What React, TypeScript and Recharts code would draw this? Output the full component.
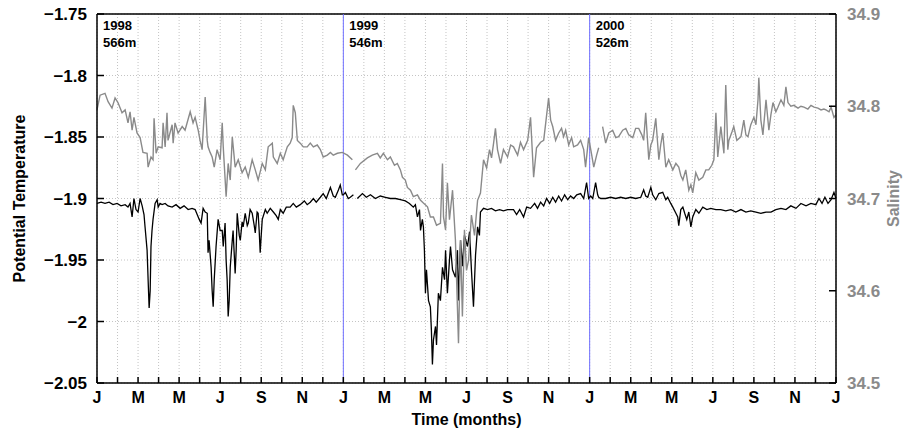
import React from 'react';
import { LineChart, Line, XAxis, YAxis, CartesianGrid, ReferenceLine } from 'recharts';

// Months since Jan 1998 (0..36)
const monthTicks = Array.from({ length: 37 }, (_, i) => i);
const monthLetters = ['J', 'F', 'M', 'A', 'M', 'J', 'J', 'A', 'S', 'O', 'N', 'D'];

const tempTicks = [-2.05, -2, -1.95, -1.9, -1.85, -1.8, -1.75];
const salTicks = [34.5, 34.6, 34.7, 34.8, 34.9];

const yearStarts = [0, 12, 24];
const yearLabels = ['1998', '1999', '2000'];
const depthLabels = ['566m', '546m', '526m'];
const yearLines = [12, 24];

const tempMonths = [
  0.00, 0.20, 0.39, 0.59, 0.78, 0.98, 1.17, 1.37, 1.51, 1.61,
  1.71, 1.80, 1.90, 2.00, 2.10, 2.20, 2.29, 2.34, 2.44, 2.49,
  2.54, 2.59, 2.63, 2.68, 2.73, 2.83, 2.93, 2.98, 3.07, 3.17,
  3.32, 3.46, 3.66, 3.85, 4.05, 4.24, 4.44, 4.63, 4.78, 4.88,
  4.98, 5.07, 5.17, 5.27, 5.37, 5.41, 5.46, 5.56, 5.61, 5.66,
  5.71, 5.80, 5.90, 6.00, 6.10, 6.15, 6.24, 6.29, 6.34, 6.39,
  6.44, 6.49, 6.59, 6.63, 6.73, 6.78, 6.83, 6.93, 6.98, 7.07,
  7.12, 7.22, 7.32, 7.37, 7.46, 7.56, 7.66, 7.71, 7.80, 7.85,
  7.90, 7.95, 8.00, 8.05, 8.20, 8.29, 8.44, 8.59, 8.73, 8.83,
  8.93, 9.07, 9.22, 9.41, 9.56, 9.71, 9.90, 10.10, 10.24, 10.39,
  10.54, 10.68, 10.88, 11.02, 11.17, 11.37, 11.51, 11.61, 11.76, 11.85,
  11.95, 12.00, 12.10, 12.24, 12.34, 12.49, 12.55, 12.68, 12.93, 13.12,
  13.32, 13.56, 13.80, 14.05, 14.29, 14.54, 14.78, 15.02, 15.22, 15.41,
  15.51, 15.61, 15.71, 15.76, 15.85, 15.90, 15.95, 16.00, 16.05, 16.15,
  16.24, 16.29, 16.34, 16.39, 16.49, 16.54, 16.63, 16.73, 16.83, 16.93,
  16.98, 17.07, 17.17, 17.22, 17.32, 17.46, 17.56, 17.61, 17.71, 17.80,
  17.90, 18.05, 18.15, 18.24, 18.34, 18.44, 18.54, 18.63, 18.68, 18.83,
  19.02, 19.22, 19.41, 19.61, 19.80, 20.00, 20.20, 20.29, 20.44, 20.59,
  20.78, 20.93, 21.12, 21.32, 21.46, 21.61, 21.76, 21.90, 22.05, 22.20,
  22.34, 22.49, 22.63, 22.78, 22.93, 23.07, 23.22, 23.37, 23.56, 23.71,
  23.85, 23.95, 24.05, 24.15, 24.29, 24.39, 24.44, 24.54, 24.78, 25.02,
  25.27, 25.51, 25.76, 26.00, 26.24, 26.49, 26.63, 26.73, 26.83, 26.98,
  27.07, 27.22, 27.37, 27.56, 27.71, 27.80, 27.95, 28.05, 28.20, 28.29,
  28.34, 28.44, 28.54, 28.63, 28.73, 28.83, 28.93, 29.02, 29.17, 29.32,
  29.51, 29.71, 29.90, 30.15, 30.39, 30.63, 30.88, 31.12, 31.37, 31.61,
  31.85, 32.10, 32.34, 32.59, 32.83, 33.07, 33.32, 33.56, 33.80, 34.05,
  34.29, 34.54, 34.78, 35.02, 35.17, 35.32, 35.46, 35.61, 35.76, 35.90,
  36.00,
];

const tempValues = [
  -1.904, -1.903, -1.904, -1.903, -1.905, -1.904, -1.906, -1.905, -1.907, -1.904,
  -1.915, -1.900, -1.909, -1.911, -1.900, -1.906, -1.913, -1.923, -1.942, -1.966,
  -1.989, -1.975, -1.939, -1.926, -1.917, -1.904, -1.901, -1.907, -1.904, -1.905,
  -1.904, -1.906, -1.907, -1.905, -1.908, -1.906, -1.909, -1.908, -1.909, -1.913,
  -1.917, -1.920, -1.908, -1.911, -1.912, -1.944, -1.934, -1.956, -1.975, -1.988,
  -1.966, -1.939, -1.917, -1.926, -1.926, -1.939, -1.920, -1.950, -1.966, -1.996,
  -1.983, -1.956, -1.934, -1.926, -1.961, -1.942, -1.912, -1.930, -1.934, -1.919,
  -1.923, -1.912, -1.922, -1.920, -1.909, -1.912, -1.922, -1.928, -1.911, -1.912,
  -1.926, -1.944, -1.930, -1.917, -1.909, -1.912, -1.908, -1.911, -1.914, -1.917,
  -1.909, -1.912, -1.907, -1.907, -1.904, -1.907, -1.905, -1.902, -1.905, -1.903,
  -1.900, -1.903, -1.899, -1.896, -1.900, -1.891, -1.898, -1.899, -1.893, -1.889,
  -1.897, -1.897, -1.895, -1.900, -1.899, -1.897, null, -1.900, -1.896, -1.899,
  -1.897, -1.900, -1.898, -1.899, -1.900, -1.900, -1.901, -1.902, -1.904, -1.907,
  -1.905, -1.915, -1.909, -1.926, -1.917, -1.923, -1.942, -1.977, -1.958, -1.983,
  -1.988, -2.007, -2.035, -2.015, -2.004, -2.019, -1.977, -1.983, -1.956, -1.966,
  -1.942, -1.977, -1.950, -1.939, -1.958, -1.964, -1.942, -1.983, -1.934, -1.955,
  -1.930, -1.939, -1.927, -1.958, -1.988, -1.946, -1.923, -1.930, -1.911, -1.908,
  -1.909, -1.908, -1.910, -1.909, -1.910, -1.909, -1.909, -1.909, -1.913, -1.909,
  -1.915, -1.907, -1.908, -1.904, -1.908, -1.903, -1.906, -1.900, -1.904, -1.899,
  -1.903, -1.898, -1.902, -1.897, -1.901, -1.898, -1.900, -1.897, -1.896, -1.900,
  -1.887, -1.900, -1.898, -1.900, -1.887, -1.897, -1.899, -1.900, -1.900, -1.899,
  -1.900, -1.899, -1.900, -1.899, -1.900, -1.899, -1.893, -1.898, -1.899, -1.891,
  -1.897, -1.901, -1.896, -1.895, -1.901, -1.899, -1.904, -1.907, -1.912, -1.915,
  -1.922, -1.909, -1.907, -1.912, -1.917, -1.911, -1.923, -1.915, -1.909, -1.912,
  -1.907, -1.909, -1.908, -1.909, -1.909, -1.910, -1.909, -1.911, -1.909, -1.911,
  -1.910, -1.911, -1.912, -1.911, -1.911, -1.909, -1.908, -1.909, -1.906, -1.908,
  -1.904, -1.906, -1.904, -1.905, -1.900, -1.904, -1.899, -1.904, -1.901, -1.895,
  -1.900,
];

const salMonths = [
  0.00, 0.15, 0.39, 0.54, 0.73, 0.88, 1.02, 1.22, 1.37, 1.51,
  1.61, 1.71, 1.80, 1.95, 2.10, 2.24, 2.44, 2.49, 2.63, 2.73,
  2.78, 2.88, 2.98, 3.17, 3.22, 3.32, 3.41, 3.46, 3.66, 3.71,
  3.80, 3.95, 4.15, 4.29, 4.54, 4.68, 4.78, 4.93, 5.02, 5.12,
  5.27, 5.37, 5.41, 5.51, 5.61, 5.71, 5.85, 6.00, 6.10, 6.15,
  6.29, 6.39, 6.49, 6.59, 6.73, 6.88, 7.07, 7.22, 7.37, 7.56,
  7.71, 7.85, 8.05, 8.20, 8.34, 8.54, 8.59, 8.78, 8.93, 9.07,
  9.27, 9.41, 9.51, 9.56, 9.66, 9.76, 9.90, 10.05, 10.24, 10.39,
  10.54, 10.73, 10.88, 11.02, 11.22, 11.37, 11.51, 11.71, 11.95, 12.20,
  12.44, 12.51, 12.59, 12.83, 13.17, 13.41, 13.66, 13.80, 13.95, 14.15,
  14.29, 14.49, 14.63, 14.78, 14.88, 15.02, 15.12, 15.27, 15.41, 15.61,
  15.76, 15.90, 16.10, 16.24, 16.39, 16.54, 16.73, 16.83, 16.88, 16.98,
  17.07, 17.17, 17.32, 17.46, 17.61, 17.71, 17.80, 17.90, 18.00, 18.10,
  18.24, 18.39, 18.54, 18.68, 18.83, 18.98, 19.12, 19.22, 19.32, 19.41,
  19.51, 19.66, 19.80, 20.00, 20.15, 20.29, 20.49, 20.63, 20.78, 20.98,
  21.12, 21.27, 21.41, 21.61, 21.76, 21.85, 22.00, 22.10, 22.20, 22.34,
  22.49, 22.63, 22.73, 22.83, 22.98, 23.12, 23.22, 23.41, 23.56, 23.71,
  23.80, 23.95, 24.10, 24.20, 24.34, 24.44, 24.50, 24.63, 24.78, 24.93,
  25.12, 25.27, 25.41, 25.61, 25.76, 25.90, 26.10, 26.24, 26.39, 26.54,
  26.63, 26.73, 26.88, 26.98, 27.07, 27.22, 27.37, 27.46, 27.56, 27.71,
  27.85, 28.05, 28.20, 28.34, 28.44, 28.54, 28.68, 28.83, 28.93, 29.02,
  29.17, 29.32, 29.51, 29.66, 29.80, 29.95, 30.05, 30.15, 30.24, 30.39,
  30.54, 30.63, 30.73, 30.78, 30.93, 31.02, 31.17, 31.37, 31.51, 31.61,
  31.71, 31.85, 32.00, 32.10, 32.20, 32.24, 32.34, 32.44, 32.59, 32.73,
  32.83, 32.93, 33.07, 33.17, 33.32, 33.46, 33.56, 33.66, 33.80, 33.95,
  34.15, 34.29, 34.44, 34.63, 34.78, 34.93, 35.12, 35.27, 35.41, 35.51,
  35.66, 35.76, 35.90, 36.00,
];

const salValues = [
  34.796, 34.812, 34.814, 34.805, 34.798, 34.809, 34.804, 34.793, 34.796, 34.782,
  34.794, 34.774, 34.788, 34.771, 34.766, 34.750, 34.749, 34.734, 34.745, 34.742,
  34.787, 34.749, 34.756, 34.755, 34.782, 34.756, 34.793, 34.763, 34.780, 34.760,
  34.782, 34.771, 34.778, 34.774, 34.794, 34.782, 34.788, 34.774, 34.763, 34.753,
  34.810, 34.763, 34.756, 34.750, 34.745, 34.734, 34.753, 34.742, 34.782, 34.756,
  34.702, 34.738, 34.720, 34.767, 34.734, 34.742, 34.728, 34.734, 34.723, 34.742,
  34.731, 34.720, 34.738, 34.731, 34.756, 34.760, 34.745, 34.738, 34.749, 34.742,
  34.756, 34.760, 34.766, 34.801, 34.793, 34.763, 34.760, 34.756, 34.756, 34.760,
  34.756, 34.758, 34.753, 34.745, 34.747, 34.750, 34.747, 34.749, 34.750, 34.747,
  34.742, null, 34.731, 34.738, 34.744, 34.747, 34.749, 34.744, 34.749, 34.742,
  34.745, 34.736, 34.738, 34.731, 34.723, 34.720, 34.712, 34.709, 34.702, 34.704,
  34.698, 34.695, 34.691, 34.680, 34.680, 34.671, 34.673, 34.738, 34.680, 34.666,
  34.717, 34.677, 34.709, 34.655, 34.543, 34.655, 34.572, 34.666, 34.622, 34.633,
  34.682, 34.660, 34.698, 34.706, 34.742, 34.733, 34.753, 34.744, 34.760, 34.776,
  34.753, 34.738, 34.753, 34.745, 34.758, 34.756, 34.747, 34.761, 34.753, 34.763,
  34.788, 34.723, 34.755, 34.761, 34.763, 34.780, 34.809, 34.785, 34.778, 34.763,
  34.771, 34.776, 34.767, 34.774, 34.758, 34.766, 34.756, 34.758, 34.763, 34.753,
  34.734, 34.766, 34.747, 34.734, 34.747, 34.755, null, 34.778, 34.760, 34.771,
  34.774, 34.766, 34.767, 34.774, 34.776, 34.769, 34.766, 34.776, 34.776, 34.769,
  34.763, 34.793, 34.742, 34.758, 34.763, 34.787, 34.742, 34.758, 34.771, 34.734,
  34.742, 34.731, 34.738, 34.734, 34.725, 34.720, 34.731, 34.709, 34.715, 34.706,
  34.728, 34.720, 34.723, 34.731, 34.731, 34.736, 34.742, 34.793, 34.745, 34.778,
  34.749, 34.823, 34.753, 34.763, 34.772, 34.778, 34.763, 34.767, 34.785, 34.769,
  34.767, 34.780, 34.788, 34.780, 34.807, 34.831, 34.785, 34.769, 34.807, 34.774,
  34.791, 34.804, 34.794, 34.799, 34.807, 34.801, 34.821, 34.804, 34.800, 34.801,
  34.798, 34.800, 34.799, 34.797, 34.801, 34.799, 34.798, 34.796, 34.797, 34.796,
  34.794, 34.799, 34.788, 34.791,
];

const tempData = tempMonths.map((m, i) => ({ m, t: tempValues[i] }));
const salData = salMonths.map((m, i) => ({ m, s: salValues[i] }));

const FONT = '"Liberation Sans", Arial, Helvetica, sans-serif';
const SAL_GRAY = '#8a8a8a';

const fmtTemp = (v: number) => String(Number(v.toFixed(2))).replace('-', '\u2212');
const fmtMonth = (v: number) => (v % 2 === 0 ? monthLetters[v % 12] : '');

const leftTitle = (props: any) => {
  const vb = props.viewBox || { x: 0, y: 14, width: 97, height: 369 };
  const cx = vb.x + 19;
  const cy = vb.y + vb.height / 2;
  return (
    <text x={cx} y={cy} transform={`rotate(-90 ${cx} ${cy})`} textAnchor="middle" dominantBaseline="central"
      fontFamily={FONT} fontSize={16} fontWeight="bold" fill="#000">Potential Temperature</text>
  );
};

const rightTitle = (props: any) => {
  const vb = props.viewBox || { x: 836, y: 14, width: 72, height: 369 };
  const cx = vb.x + 57;
  const cy = vb.y + vb.height / 2;
  return (
    <text x={cx} y={cy} transform={`rotate(-90 ${cx} ${cy})`} textAnchor="middle" dominantBaseline="central"
      fontFamily={FONT} fontSize={16} fontWeight="bold" fill={SAL_GRAY}>Salinity</text>
  );
};

const bottomTitle = (props: any) => {
  const vb = props.viewBox || { x: 97, y: 383, width: 739, height: 47 };
  return (
    <text x={vb.x + vb.width / 2} y={vb.y + 42} textAnchor="middle"
      fontFamily={FONT} fontSize={16} fontWeight="bold" fill="#000">Time (months)</text>
  );
};

const yearLabel = (i: number) => (props: any) => {
  const vb = props.viewBox || { x: 97, y: 14 };
  return (
    <g>
      <text x={vb.x + 6} y={vb.y + 16} fontFamily={FONT} fontSize={13} fontWeight="bold" fill="#000">{yearLabels[i]}</text>
      <text x={vb.x + 6} y={vb.y + 33} fontFamily={FONT} fontSize={13} fontWeight="bold" fill="#000">{depthLabels[i]}</text>
    </g>
  );
};

export default function App() {
  return (
    <div style={{ position: 'absolute', left: 0, top: 0, width: 908, height: 430, background: '#fff' }}>
      <LineChart width={908} height={430} margin={{ top: 14, right: 0, bottom: 0, left: 0 }}>
        <CartesianGrid yAxisId="left" stroke="#c4c4c4" strokeDasharray="1 2" />
        <XAxis
          dataKey="m"
          type="number"
          domain={[0, 36]}
          ticks={monthTicks}
          interval={0}
          allowDuplicatedCategory={false}
          tickFormatter={fmtMonth}
          height={47}
          tickSize={-6}
          tickMargin={15}
          axisLine={{ stroke: '#000', strokeWidth: 1.5 }}
          tickLine={{ stroke: '#000', strokeWidth: 1.5 }}
          tick={{ fill: '#000', fontSize: 16, fontWeight: 'bold', fontFamily: FONT }}
          label={{ content: bottomTitle }}
        />
        <YAxis
          yAxisId="left"
          orientation="left"
          width={97}
          domain={[-2.05, -1.75]}
          ticks={tempTicks}
          interval={0}
          allowDataOverflow
          tickFormatter={fmtTemp}
          tickSize={-7}
          tickMargin={17}
          axisLine={{ stroke: '#000', strokeWidth: 1.5 }}
          tickLine={{ stroke: '#000', strokeWidth: 1.5 }}
          tick={{ fill: '#000', fontSize: 17, fontWeight: 'bold', fontFamily: FONT }}
          label={{ content: leftTitle }}
        />
        <YAxis
          yAxisId="right"
          orientation="right"
          width={72}
          domain={[34.5, 34.9]}
          ticks={salTicks}
          interval={0}
          allowDataOverflow
          tickFormatter={(v: number) => v.toFixed(1)}
          tickSize={-7}
          tickMargin={18}
          axisLine={{ stroke: '#000', strokeWidth: 1.5 }}
          tickLine={{ stroke: '#000', strokeWidth: 1.5 }}
          tick={{ fill: SAL_GRAY, fontSize: 17, fontWeight: 'bold', fontFamily: FONT }}
          label={{ content: rightTitle }}
        />
        <ReferenceLine yAxisId="left" y={-1.75} stroke="#000" strokeWidth={1.5} />
        {yearLines.map((x) => (
          <ReferenceLine key={'yl' + x} yAxisId="left" x={x} stroke="#6f6fff" strokeWidth={1} />
        ))}
        {yearStarts.map((x, i) => (
          <ReferenceLine key={'ys' + x} yAxisId="left" x={x} stroke="none" label={{ content: yearLabel(i) }} />
        ))}
        <Line
          yAxisId="left"
          data={tempData}
          dataKey="t"
          type="linear"
          stroke="#000"
          strokeWidth={1.3}
          dot={false}
          activeDot={false}
          connectNulls={false}
          isAnimationActive={false}
        />
        <Line
          yAxisId="right"
          data={salData}
          dataKey="s"
          type="linear"
          stroke={SAL_GRAY}
          strokeWidth={1.4}
          dot={false}
          activeDot={false}
          connectNulls={false}
          isAnimationActive={false}
        />
      </LineChart>
    </div>
  );
}
